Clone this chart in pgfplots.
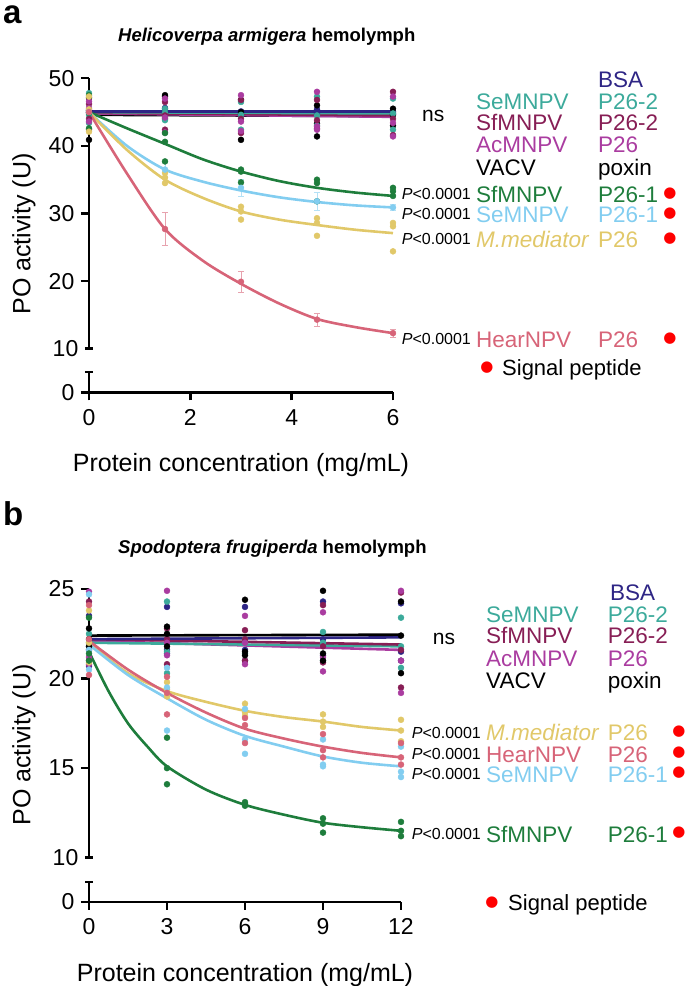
\documentclass[border=0pt]{standalone}
\usepackage{pgfplots}
\pgfplotsset{compat=1.18}
\usepackage{fontspec}
\setmainfont{Liberation Sans}
\newfontfamily\dejavu{DejaVu Sans}
\definecolor{cBSA}{RGB}{46,37,133}
\definecolor{cTeal}{RGB}{60,170,155}
\definecolor{cMaroon}{RGB}{135,30,85}
\definecolor{cMag}{RGB}{170,60,160}
\definecolor{cGreen}{RGB}{30,125,60}
\definecolor{cLB}{RGB}{130,205,240}
\definecolor{cYel}{RGB}{225,200,105}
\definecolor{cPink}{RGB}{215,100,120}
\pgfplotsset{
 prism/.style={anchor=south west, scale only axis, clip=false,
   axis line style={line width=2.4pt,-},
   every tick/.style={line width=2.4pt, black},
   major tick length=8pt, tick align=outside,
   ticklabel style={font=\fontsize{23}{23}\selectfont, inner sep=1.5pt},
   xticklabel style={yshift=-7pt},
   yticklabel style={xshift=-5pt},
   /pgf/number format/assume math mode=true},
 dots/.style={only marks, mark=*, mark size=3pt, color=#1, mark options={draw=none, fill=#1}, forget plot},
 fit/.style={color=#1, line width=2.6pt, smooth, no marks, forget plot},
 msd/.style={only marks, mark=*, mark size=3pt, color=#1, mark options={draw=none, fill=#1}, forget plot,
   error bars/.cd, y dir=both, y explicit,
   error bar style={line width=0.7pt, color=#1!60},
   error mark options={rotate=90, mark size=3pt, line width=0.7pt, color=#1!60}},
}
\newcommand{\lab}[1]{\fontsize{22.5}{22.5}\selectfont #1}
\newcommand{\pv}{\fontsize{16}{16}\selectfont\textit{P}<0.0001}
\newcommand{\rdot}{\textcolor{red}{\dejavu\fontsize{15}{15}\selectfont ●}}
\begin{document}
\begin{tikzpicture}[lbl/.style={anchor=base west, inner sep=0pt}]
\path[use as bounding box] (0,0) rectangle (685pt,986pt);
%================ PANEL A =================
\begin{axis}[prism, at={(89pt,637.3pt)}, width=304pt, height=270.4pt,
  xmin=0, xmax=6, ymin=10, ymax=50, axis x line=none, axis y line*=left,
  ytick={20,30,40,50}, extra y ticks={10}, extra y tick style={tick align=center}]
% individual replicates
\addplot[dots=cBSA] coordinates {(0,45.0)(0,44.9)(0,45.3)(1.5,45.3)(1.5,45.6)(1.5,44.8)(3,44.8)(3,45.1)(3,44.6)(4.5,45.1)(4.5,44.8)(4.5,45.4)(6,44.9)(6,45.1)(6,44.7)};
\addplot[dots=black] coordinates {(0,47.1)(0,45.2)(0,40.9)(1.5,47.5)(1.5,47.3)(1.5,44.0)(3,40.9)(3,45.0)(3,46.8)(4.5,43.3)(4.5,41.4)(4.5,46.0)(6,44.6)(6,43.0)(6,45.5)};
\addplot[dots=cTeal] coordinates {(0,47.8)(0,43.4)(0,44.6)(1.5,43.8)(1.5,44.9)(1.5,45.5)(3,46.5)(3,42.4)(3,44.6)(4.5,47.3)(4.5,44.5)(4.5,43.0)(6,42.4)(6,44.8)(6,47.0)};
\addplot[dots=cMaroon] coordinates {(0,46.2)(0,44.0)(0,42.4)(1.5,44.5)(1.5,42.4)(1.5,46.5)(3,41.9)(3,44.0)(3,46.8)(4.5,43.8)(4.5,42.6)(4.5,46.8)(6,48.0)(6,41.6)(6,44.0)};
\addplot[dots=cMag] coordinates {(0,46.6)(0,45.6)(0,43.6)(1.5,47.0)(1.5,42.0)(1.5,44.2)(3,47.5)(3,43.6)(3,42.2)(4.5,48.0)(4.5,42.9)(4.5,42.4)(6,47.3)(6,43.4)(6,41.4)};
\addplot[dots=cGreen] coordinates {(0,47.5)(0,42.6)(0,44.9)(1.5,41.9)(1.5,40.6)(1.5,37.7)(3,36.5)(3,34.6)(3,36.2)(4.5,35.0)(4.5,34.5)(4.5,31.8)(6,33.8)(6,33.3)(6,32.6)};
\addplot[dots=cYel] coordinates {(0,47.3)(0,42.1)(0,45.4)(1.5,35.3)(1.5,34.5)(1.5,36.0)(3,31.0)(3,30.3)(3,29.1)(4.5,29.3)(4.5,28.6)(4.5,26.7)(6,28.6)(6,28.1)(6,24.4)};
% mean +- SD
\addplot[msd=cLB] coordinates {(0,45.0) +- (0,0.8) (1.5,36.5) +- (0,1.0) (3,33.8) +- (0,1.3) (4.5,31.8) +- (0,1.3) (6,30.9) +- (0,0.5)};
\addplot[msd=cPink] coordinates {(0,45.0) +- (0,0.5) (1.5,27.7) +- (0,2.4) (3,19.9) +- (0,1.5) (4.5,14.3) +- (0,1.0) (6,12.3) +- (0,0.6)};
% fitted curves
\addplot[fit=black] coordinates {(0,44.6)(6,44.4)};
\addplot[fit=cMag] coordinates {(0,44.8)(6,44.3)};
\addplot[fit=cMaroon] coordinates {(0,44.9)(6,44.5)};
\addplot[fit=cTeal] coordinates {(0,45.0)(6,44.8)};
\addplot[fit=cBSA] coordinates {(0,45.1)(6,45.1)};
\addplot[fit=cGreen] coordinates {(0,45)(0.75,42.6)(1.5,40.3)(2.25,38.0)(3,36.2)(3.75,34.8)(4.5,33.8)(5.25,33.1)(6,32.6)};
\addplot[fit=cLB] coordinates {(0,45)(0.75,40.0)(1.5,36.5)(2.25,34.7)(3,33.4)(3.75,32.4)(4.5,31.7)(5.25,31.2)(6,30.9)};
\addplot[fit=cYel] coordinates {(0,45)(0.75,39.4)(1.5,35.0)(2.25,32.3)(3,30.3)(3.75,29.1)(4.5,28.3)(5.25,27.6)(6,27.1)};
\addplot[fit=cPink] coordinates {(0,45)(0.75,35.9)(1.5,27.7)(2.25,23.0)(3,19.6)(3.75,16.7)(4.5,14.4)(5.25,13.2)(6,12.3)};
\end{axis}
\begin{axis}[prism, at={(89pt,593.5pt)}, width=304pt, height=20.5pt,
  xmin=0, xmax=6, ymin=0, ymax=3, axis x line*=bottom, axis y line*=left,
  xtick={0,2,4,6}, ytick={0}, extra y ticks={3}, extra y tick labels={}, extra y tick style={tick align=center}]
\addplot[draw=none, forget plot] coordinates {(0,0)};
\end{axis}
\node[lbl, font=\fontsize{33}{33}\selectfont\bfseries] at (3pt,962.5pt) {a};
\node[lbl, font=\fontsize{18.5}{18.5}\selectfont\bfseries] at (118pt,944.3pt) {\textit{Helicoverpa armigera} hemolymph};
\node[rotate=90, inner sep=0pt, font=\fontsize{25}{25}\selectfont] at (24pt,752pt) {PO activity (U)};
\node[anchor=base, inner sep=0pt, font=\fontsize{25}{25}\selectfont] at (241pt,514pt) {Protein concentration (mg/mL)};
\node[lbl, font=\fontsize{21}{21}\selectfont] at (422pt,864.3pt) {ns};
\node[lbl, text=cBSA] at (598pt,898.8pt) {\lab{BSA}};
\node[lbl, text=cTeal] at (476pt,876.8pt) {\lab{SeMNPV}};
\node[lbl, text=cTeal] at (598pt,876.8pt) {\lab{P26-2}};
\node[lbl, text=cMaroon] at (476pt,855.8pt) {\lab{SfMNPV}};
\node[lbl, text=cMaroon] at (598pt,855.8pt) {\lab{P26-2}};
\node[lbl, text=cMag] at (476pt,833.8pt) {\lab{AcMNPV}};
\node[lbl, text=cMag] at (598pt,833.8pt) {\lab{P26}};
\node[lbl, text=black] at (476pt,810.8pt) {\lab{VACV}};
\node[lbl, text=black] at (598pt,810.8pt) {\lab{poxin}};
\node[lbl, text=cGreen] at (476pt,783.8pt) {\lab{SfMNPV}};
\node[lbl, text=cGreen] at (598pt,783.8pt) {\lab{P26-1}};
\node[lbl, text=cLB] at (476pt,763.8pt) {\lab{SeMNPV}};
\node[lbl, text=cLB] at (598pt,763.8pt) {\lab{P26-1}};
\node[lbl, text=cYel] at (476pt,738.8pt) {\lab{\textit{M.mediator}}};
\node[lbl, text=cYel] at (598pt,738.8pt) {\lab{P26}};
\node[lbl, text=cPink] at (476pt,638.8pt) {\lab{HearNPV}};
\node[lbl, text=cPink] at (598pt,638.8pt) {\lab{P26}};
\node[lbl] at (401.7pt,786.3pt) {\pv};
\node[lbl] at (401.7pt,766.3pt) {\pv};
\node[lbl] at (401.7pt,741.3pt) {\pv};
\node[lbl] at (401.7pt,641.3pt) {\pv};
\node[inner sep=0pt] at (670pt,792.7pt) {\rdot};
\node[inner sep=0pt] at (670pt,772.7pt) {\rdot};
\node[inner sep=0pt] at (670pt,747.7pt) {\rdot};
\node[inner sep=0pt] at (670pt,647.7pt) {\rdot};
\node[inner sep=0pt] at (487pt,618pt) {\rdot};
\node[lbl, font=\fontsize{22}{22}\selectfont] at (502pt,610.1pt) {Signal peptide};
%================ PANEL B =================
\begin{axis}[prism, at={(89pt,128.3pt)}, width=312pt, height=268.7pt,
  xmin=0, xmax=12, ymin=10, ymax=25, axis x line=none, axis y line*=left,
  ytick={15,20,25}, extra y ticks={10}, extra y tick style={tick align=center}]
\addplot[dots=cBSA] coordinates {(0,23.5)(0,21.8)(0,20.7)(3,24.0)(3,21.6)(3,21.4)(6,24.0)(6,21.6)(6,21.0)(9,24.3)(9,22.2)(9,21.3)(12,24.2)(12,21.5)(12,21.0)};
\addplot[dots=cTeal] coordinates {(0,22.5)(0,21.6)(0,22.0)(3,24.3)(3,20.3)(3,21.5)(6,21.4)(6,22.2)(6,22.0)(9,21.0)(9,22.0)(9,22.6)(12,23.4)(12,20.6)(12,21.8)};
\addplot[dots=cMaroon] coordinates {(0,24.3)(0,21.0)(0,21.6)(3,22.2)(3,20.8)(3,22.8)(6,22.7)(6,21.0)(6,22.2)(9,24.1)(9,21.8)(9,20.9)(12,24.8)(12,19.5)(12,21.6)};
\addplot[dots=cMag] coordinates {(0,24.85)(0,20.8)(0,21.2)(3,24.9)(3,21.3)(3,22.0)(6,23.5)(6,22.0)(6,20.8)(9,23.7)(9,20.4)(9,21.2)(12,24.9)(12,19.2)(12,21.0)};
\addplot[dots=black] coordinates {(0,22.2)(0,22.8)(0,21.8)(3,22.5)(3,21.8)(3,22.9)(6,24.4)(6,21.5)(6,21.3)(9,24.9)(9,21.0)(9,21.4)(12,22.4)(12,20.3)(12,24.3)};
\addplot[dots=cYel] coordinates {(0,23.8)(0,22.0)(0,20.9)(3,19.0)(3,19.8)(3,19.4)(6,18.6)(6,18.1)(6,17.9)(9,18.0)(9,17.6)(9,17.3)(12,17.7)(12,16.5)(12,17.1)};
\addplot[dots=cLB] coordinates {(0,24.7)(0,20.5)(0,21.6)(3,17.1)(3,19.5)(3,20.6)(6,18.3)(6,15.8)(6,16.6)(9,16.6)(9,15.2)(9,15.1)(12,16.2)(12,14.8)(12,14.5)};
\addplot[dots=cPink] coordinates {(0,24.1)(0,22.2)(0,20.2)(3,20.1)(3,19.2)(3,18.0)(6,17.8)(6,17.4)(6,16.4)(9,16.9)(9,16.0)(9,15.6)(12,16.4)(12,15.2)(12,15.6)};
\addplot[dots=cGreen] coordinates {(0,23.4)(0,21.4)(0,21.0)(3,16.7)(3,15.0)(3,14.1)(6,13.1)(6,12.9)(6,13.0)(9,12.2)(9,11.9)(9,11.4)(12,12.0)(12,11.5)(12,11.2)};
\addplot[fit=cMag] coordinates {(0,22.1)(12,21.6)};
\addplot[fit=cTeal] coordinates {(0,22.0)(12,21.8)};
\addplot[fit=cMaroon] coordinates {(0,22.2)(12,21.9)};
\addplot[fit=cBSA] coordinates {(0,22.2)(12,22.3)};
\addplot[fit=black] coordinates {(0,22.4)(12,22.45)};
\addplot[fit=cYel] coordinates {(0,22.0)(1.5,20.3)(3,19.3)(4.5,18.7)(6,18.2)(7.5,17.85)(9,17.6)(10.5,17.3)(12,17.1)};
\addplot[fit=cLB] coordinates {(0,21.9)(1.5,20.2)(3,18.9)(4.5,17.7)(6,16.8)(7.5,16.2)(9,15.65)(10.5,15.3)(12,15.1)};
\addplot[fit=cPink] coordinates {(0,22.1)(1.5,20.5)(3,19.2)(4.5,18.1)(6,17.2)(7.5,16.65)(9,16.2)(10.5,15.85)(12,15.6)};
\addplot[fit=cGreen] coordinates {(0,21.5)(0.75,19.3)(1.5,17.5)(2.25,16.2)(3,15.1)(4.5,13.8)(6,12.95)(7.5,12.4)(9,11.95)(10.5,11.7)(12,11.5)};
\end{axis}
\begin{axis}[prism, at={(89pt,84pt)}, width=312pt, height=20pt,
  xmin=0, xmax=12, ymin=0, ymax=1, axis x line*=bottom, axis y line*=left,
  xtick={0,3,6,9,12}, ytick={0}, extra y ticks={1}, extra y tick labels={}, extra y tick style={tick align=center}]
\addplot[draw=none, forget plot] coordinates {(0,0)};
\end{axis}
\node[lbl, font=\fontsize{33}{33}\selectfont\bfseries] at (3pt,460pt) {b};
\node[lbl, font=\fontsize{18.5}{18.5}\selectfont\bfseries] at (118pt,432pt) {\textit{Spodoptera frugiperda} hemolymph};
\node[rotate=90, inner sep=0pt, font=\fontsize{25}{25}\selectfont] at (24pt,241pt) {PO activity (U)};
\node[anchor=base, inner sep=0pt, font=\fontsize{25}{25}\selectfont] at (245pt,5pt) {Protein concentration (mg/mL)};
\node[lbl, font=\fontsize{21}{21}\selectfont] at (432.7pt,341pt) {ns};
\node[lbl, text=cBSA] at (610pt,385.3pt) {\lab{BSA}};
\node[lbl, text=cTeal] at (486pt,363.8pt) {\lab{SeMNPV}};
\node[lbl, text=cTeal] at (607.7pt,363.8pt) {\lab{P26-2}};
\node[lbl, text=cMaroon] at (486pt,342.1pt) {\lab{SfMNPV}};
\node[lbl, text=cMaroon] at (607.7pt,342.1pt) {\lab{P26-2}};
\node[lbl, text=cMag] at (486pt,319.8pt) {\lab{AcMNPV}};
\node[lbl, text=cMag] at (607.7pt,319.8pt) {\lab{P26}};
\node[lbl, text=black] at (486pt,297.3pt) {\lab{VACV}};
\node[lbl, text=black] at (607.7pt,297.3pt) {\lab{poxin}};
\node[lbl, text=cYel] at (486pt,245.3pt) {\lab{\textit{M.mediator}}};
\node[lbl, text=cYel] at (607.7pt,245.3pt) {\lab{P26}};
\node[lbl, text=cPink] at (486pt,223.8pt) {\lab{HearNPV}};
\node[lbl, text=cPink] at (607.7pt,223.8pt) {\lab{P26}};
\node[lbl, text=cLB] at (486pt,203.8pt) {\lab{SeMNPV}};
\node[lbl, text=cLB] at (607.7pt,203.8pt) {\lab{P26-1}};
\node[lbl, text=cGreen] at (486pt,143.8pt) {\lab{SfMNPV}};
\node[lbl, text=cGreen] at (607.7pt,143.8pt) {\lab{P26-1}};
\node[lbl] at (411.7pt,247.8pt) {\pv};
\node[lbl] at (411.7pt,226.3pt) {\pv};
\node[lbl] at (411.7pt,206.3pt) {\pv};
\node[lbl] at (411.7pt,146.3pt) {\pv};
\node[inner sep=0pt] at (679pt,254.3pt) {\rdot};
\node[inner sep=0pt] at (679pt,233pt) {\rdot};
\node[inner sep=0pt] at (679pt,213pt) {\rdot};
\node[inner sep=0pt] at (679pt,153pt) {\rdot};
\node[inner sep=0pt] at (492pt,83pt) {\rdot};
\node[lbl, font=\fontsize{22}{22}\selectfont] at (508pt,75pt) {Signal peptide};
\end{tikzpicture}
\end{document}
